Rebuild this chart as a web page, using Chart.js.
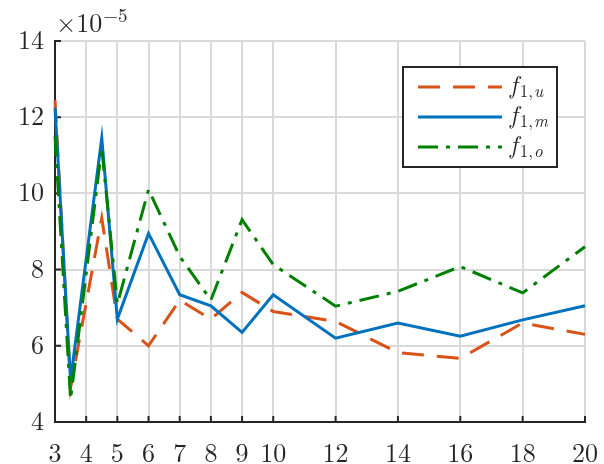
<!DOCTYPE html>
<html>
<head>
<meta charset="utf-8">
<script src="https://cdn.jsdelivr.net/npm/chart.js@4.4.1/dist/chart.umd.min.js"></script>
<style>
  html, body { margin: 0; padding: 0; background: #ffffff; }
  #wrap { width: 604px; height: 464px; position: relative; overflow: hidden; }
</style>
</head>
<body>
<div id="wrap"><canvas id="chart"></canvas></div>
<script>
// x positions of the samples
const xValues = [3, 3.5, 4.5, 5, 6, 7, 8, 9, 10, 12, 14, 16, 18, 20];
// series values, in units of 1e-5
const f1u = [12.45, 4.9, 9.35, 6.7, 6.0, 7.2, 6.7, 7.4, 6.9, 6.64, 5.82, 5.67, 6.6, 6.3];
const f1m = [12.25, 5.1, 11.45, 6.7, 8.95, 7.34, 7.05, 6.35, 7.34, 6.2, 6.6, 6.25, 6.68, 7.05];
const f1o = [11.5, 4.6, 11.2, 7.1, 10.1, 8.35, 7.2, 9.31, 8.13, 7.04, 7.43, 8.08, 7.39, 8.6];
// tick labels
const xTicks = [3, 4, 5, 6, 7, 8, 9, 10, 12, 14, 16, 18, 20];
const yTicks = [4, 6, 8, 10, 12, 14];
const seriesLabels = ['f_{1,u}', 'f_{1,m}', 'f_{1,o}'];
const exponentLabel = ['\u00d710', '\u22125'];

const SERIF = "'Latin Modern Roman', 'Liberation Serif', serif";
const INK = '#262626';
const GRID = '#d9d9d9';
const COLORS = ['#D95319', '#0072BD', '#008000'];
const DASHES = [[22, 13], [], [20, 8, 4, 8]];

const toPoints = ys => xValues.map((x, i) => ({ x: x, y: ys[i] }));

// inward tick marks on the left and bottom axes
const tickMarks = {
  id: 'tickMarks',
  beforeDatasetsDraw(chart) {
    const { ctx, chartArea: a, scales } = chart;
    ctx.save();
    ctx.strokeStyle = INK;
    ctx.lineWidth = 2;
    ctx.beginPath();
    scales.x.ticks.forEach(t => {
      const px = scales.x.getPixelForValue(t.value);
      ctx.moveTo(px, a.bottom);
      ctx.lineTo(px, a.bottom - 6);
    });
    scales.y.ticks.forEach(t => {
      const py = scales.y.getPixelForValue(t.value);
      ctx.moveTo(a.left, py);
      ctx.lineTo(a.left + 6, py);
    });
    ctx.stroke();
    ctx.restore();
  }
};

// axis multiplier and boxed legend with subscripted names
const annotations = {
  id: 'annotations',
  afterDraw(chart) {
    const { ctx, chartArea: a } = chart;
    ctx.save();
    // multiplier above the y axis
    ctx.fillStyle = INK;
    ctx.textBaseline = 'alphabetic';
    ctx.textAlign = 'left';
    ctx.font = '26px ' + SERIF;
    const bx = a.left + 1;
    ctx.fillText(exponentLabel[0], bx, 32);
    const w0 = ctx.measureText(exponentLabel[0]).width;
    ctx.font = '19px ' + SERIF;
    ctx.fillText(exponentLabel[1], bx + w0 + 1, 22);

    // legend box
    const L = 403, T = 67, W = 154, H = 100;
    ctx.fillStyle = '#ffffff';
    ctx.fillRect(L, T, W, H);
    ctx.strokeStyle = INK;
    ctx.lineWidth = 2;
    ctx.strokeRect(L, T, W, H);

    chart.data.datasets.forEach(ds => {
      const idx = ds.legendIndex;
      const cy = T + 20 + idx * 30;
      ctx.save();
      ctx.strokeStyle = ds.borderColor;
      ctx.lineWidth = 3;
      ctx.setLineDash(ds.borderDash || []);
      ctx.beginPath();
      ctx.moveTo(418, cy);
      ctx.lineTo(502, cy);
      ctx.stroke();
      ctx.restore();

      const m = /^(\w)_\{(\d),(\w)\}$/.exec(ds.label);
      let x = 510;
      ctx.fillStyle = INK;
      ctx.font = 'italic 25px ' + SERIF;
      ctx.fillText(m[1], x, cy + 6);
      x += ctx.measureText(m[1]).width + 2;
      ctx.font = '17px ' + SERIF;
      ctx.fillText(m[2] + ',', x, cy + 10);
      x += ctx.measureText(m[2] + ',').width + 1;
      ctx.font = 'italic 17px ' + SERIF;
      ctx.fillText(m[3], x, cy + 10);
    });
    ctx.restore();
  }
};

const lineSet = (i, ys, order) => ({
  label: seriesLabels[i],
  legendIndex: i,
  data: toPoints(ys),
  borderColor: COLORS[i],
  backgroundColor: COLORS[i],
  borderWidth: 3,
  borderDash: DASHES[i],
  borderCapStyle: 'butt',
  borderJoinStyle: 'miter',
  pointRadius: 0,
  tension: 0,
  fill: false,
  clip: 6,
  order: order
});

new Chart(document.getElementById('chart'), {
  type: 'line',
  data: {
    datasets: [
      lineSet(0, f1u, 3),
      lineSet(1, f1m, 2),
      lineSet(2, f1o, 1)
    ]
  },
  options: {
    responsive: true,
    maintainAspectRatio: false,
    animation: false,
    devicePixelRatio: 1,
    layout: { padding: { left: 0, right: 19, top: 41, bottom: 0 } },
    plugins: { legend: { display: false }, tooltip: { enabled: false } },
    scales: {
      x: {
        type: 'linear',
        min: 3,
        max: 20,
        afterBuildTicks: s => { s.ticks = xTicks.map(v => ({ value: v })); },
        afterFit: s => { s.height = 42; s.paddingLeft = 0; s.paddingRight = 0; },
        ticks: {
          font: { family: SERIF, size: 26 },
          color: INK,
          padding: 16,
          maxRotation: 0,
          autoSkip: false,
          callback: v => String(v)
        },
        grid: { color: GRID, lineWidth: 2, drawTicks: false },
        border: { color: INK, width: 2 }
      },
      y: {
        type: 'linear',
        min: 4,
        max: 14,
        afterBuildTicks: s => { s.ticks = yTicks.map(v => ({ value: v })); },
        afterFit: s => { s.width = 55; s.paddingTop = 0; s.paddingBottom = 0; },
        ticks: {
          font: { family: SERIF, size: 26 },
          color: INK,
          padding: 11,
          autoSkip: false,
          callback: v => String(v)
        },
        grid: { color: GRID, lineWidth: 2, drawTicks: false },
        border: { color: INK, width: 2 }
      }
    }
  },
  plugins: [tickMarks, annotations]
});
</script>
</body>
</html>
